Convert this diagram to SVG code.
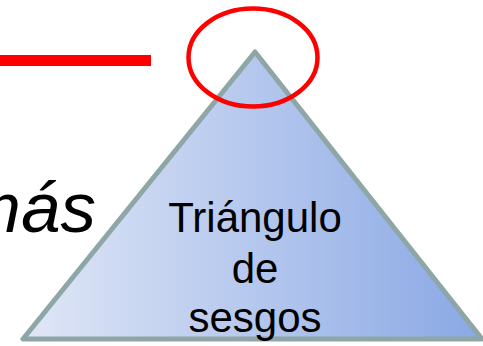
<svg xmlns="http://www.w3.org/2000/svg" width="483" height="346" viewBox="0 0 483 346">
<defs>
<linearGradient id="g" x1="0" y1="0" x2="1" y2="0">
<stop offset="0" stop-color="#e0e7f6"/>
<stop offset="1" stop-color="#8aa8e5"/>
</linearGradient>
<style>
.t{font-family:"Liberation Sans",Arial,sans-serif;fill:#000}
</style>
</defs>
<rect width="483" height="346" fill="#fff"/>
<line x1="0" y1="60.5" x2="151" y2="60.5" stroke="#ff0000" stroke-width="11"/>
<text class="t" x="96" y="232" font-size="71" font-style="italic" text-anchor="end">más</text>
<g id="triangle">
<polygon points="255,52 23,339 482,339" fill="url(#g)" stroke="#8fa6a6" stroke-width="5" stroke-linejoin="round"/>
<text class="t" font-size="42" text-anchor="middle"><tspan x="255" y="232">Triángulo</tspan><tspan x="255" y="283">de</tspan><tspan x="255" y="332">sesgos</tspan></text>
</g>
<ellipse id="circle" cx="253" cy="57.5" rx="64.5" ry="49" fill="none" stroke="#ff0000" stroke-width="4.5"/>
</svg>
